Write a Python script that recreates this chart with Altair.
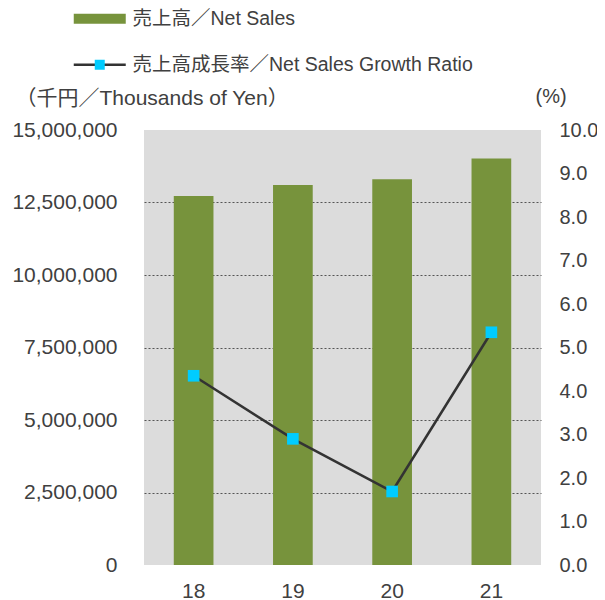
import altair as alt
import pandas as pd

years = ["18", "19", "20", "21"]
sales = [12720000, 13100000, 13300000, 14020000]
growth = [4.35, 2.90, 1.69, 5.35]
lbl_bar = "売上高／Net Sales"
lbl_line = "売上高成長率／Net Sales Growth Ratio"
left_ticks = [0, 2500000, 5000000, 7500000, 10000000, 12500000, 15000000]
right_ticks = [0, 1, 2, 3, 4, 5, 6, 7, 8, 9, 10]

df = pd.DataFrame({
    "year": years,
    "sales": sales,
    "growth": growth,
    "s_bar": [lbl_bar] * 4,
    "s_line": [lbl_line] * 4,
    "s_pt": [lbl_line] * 4,
})

FONT = "Liberation Sans, Arial, Noto Sans CJK JP"
TXT = "#404040"
GREEN = "#77933C"
CYAN = "#00CCFF"
LINE = "#333333"

x = alt.X("year:O", sort=years,
          scale=alt.Scale(paddingInner=0.6, paddingOuter=0.3),
          axis=alt.Axis(title=None, labelAngle=0, ticks=False, domain=False,
                        labelPadding=15, labelFontSize=21, labelColor=TXT,
                        labelFont=FONT))

LX = -54
leg_common = dict(orient="none", title=None, labelFontSize=19.5, labelColor=TXT,
                  labelFont=FONT, symbolSize=100, padding=0, labelOffset=23,
                  labelLimit=600, legendX=LX)

bars = alt.Chart(df).mark_bar(opacity=1).encode(
    x=x,
    y=alt.Y("sales:Q",
            scale=alt.Scale(domain=[0, 15000000], nice=False),
            axis=alt.Axis(values=left_ticks, format=",d", orient="left",
                          title="（千円／Thousands of Yen）", titleAngle=0,
                          titleAlign="left", titleBaseline="middle",
                          titleX=-129, titleY=-32, titleFontSize=21,
                          titleFontWeight="normal", titleColor=TXT, titleFont=FONT,
                          labelFontSize=21, labelColor=TXT, labelFont=FONT,
                          labelPadding=27, ticks=False, domain=False,
                          grid=True, gridColor="#555555", gridDash=[2, 2],
                          gridWidth=1,
                          gridOpacity={"condition": {"test": "datum.value == 0 || datum.value == 15000000", "value": 0}, "value": 1})),
    fill=alt.Fill("s_bar:N", scale=alt.Scale(range=[GREEN]),
                  legend=alt.Legend(symbolType="M-5.2,-1H5.2V1H-5.2Z",
                                    symbolStrokeWidth=0, symbolOpacity=1,
                                    legendY=-121, **leg_common)),
)

yr = alt.Y("growth:Q", scale=alt.Scale(domain=[0, 10], nice=False),
           axis=alt.Axis(values=right_ticks, format=".1f", orient="right",
                         title="(%)", titleAngle=0, titleAlign="left",
                         titleBaseline="middle", titleX=-6, titleY=-34,
                         titleFontSize=20, titleFontWeight="normal",
                         titleColor=TXT, titleFont=FONT,
                         labelFontSize=20, labelColor=TXT, labelFont=FONT,
                         labelPadding=18, ticks=False, domain=False, grid=False))

line = alt.Chart(df).mark_line(strokeWidth=2.5).encode(
    x=x, y=yr,
    stroke=alt.Stroke("s_line:N", scale=alt.Scale(range=[LINE]),
                      legend=alt.Legend(symbolType="M-5.2,0H5.2",
                                        symbolStrokeWidth=2.5,
                                        symbolStrokeColor=LINE,
                                        legendY=-75, **leg_common)),
)

pts = alt.Chart(df).mark_point(filled=True, size=135, opacity=1, color=CYAN).encode(
    x=x, y=yr,
    shape=alt.Shape("s_pt:N", scale=alt.Scale(range=["square"]),
                    legend=alt.Legend(symbolType="M-1.15,-1.15H1.15V1.15H-1.15Z",
                                      symbolFillColor=CYAN, symbolStrokeWidth=0,
                                      symbolOpacity=1, labelOpacity=0, zindex=2,
                                      legendY=-75, **leg_common)),
)

chart = alt.layer(bars, alt.layer(line, pts)).resolve_scale(
    y="independent"
).properties(
    width=397, height=435,
    autosize=alt.AutoSizeParams(type="none"),
    padding={"left": 136, "top": 122, "right": 56, "bottom": 42},
    background="white",
).configure_view(stroke=None, fill="#DCDCDC")

chart.save("out.html", embed_options={"renderer": "svg", "actions": False})
